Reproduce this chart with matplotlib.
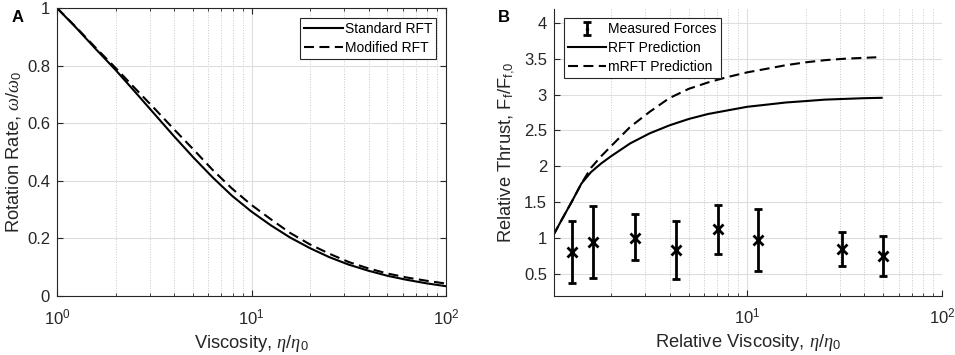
import numpy as np
import matplotlib
matplotlib.use('Agg')
import matplotlib.pyplot as plt
from matplotlib.ticker import FuncFormatter, LogLocator, NullFormatter

plt.rcParams['font.family'] = ['Liberation Sans', 'DejaVu Sans']
plt.rcParams['mathtext.fontset'] = 'custom'
plt.rcParams['mathtext.rm'] = 'Liberation Sans'
plt.rcParams['mathtext.it'] = 'Liberation Serif:italic'
plt.rcParams['mathtext.sf'] = 'Liberation Sans'

# panel A: rotation rate vs viscosity
visc_a = [1, 1.26, 1.58, 2, 2.51, 3.16, 3.98, 5.01, 6.31, 7.94, 10, 12.6, 15.8, 20, 25.1, 31.6,
          39.8, 50.1, 63.1, 79.4, 100]
rate_std = [1.0, 0.93, 0.858, 0.785, 0.71, 0.633, 0.556, 0.482, 0.412, 0.348, 0.293, 0.245, 0.203,
            0.166, 0.135, 0.109, 0.088, 0.07, 0.056, 0.044, 0.034]
rate_mod = [1.0, 0.932, 0.862, 0.792, 0.722, 0.652, 0.58, 0.51, 0.438, 0.373, 0.316, 0.266, 0.219,
            0.179, 0.147, 0.118, 0.096, 0.078, 0.064, 0.053, 0.043]

# panel B: relative thrust
visc_rft = [1.012, 1.12, 1.26, 1.41, 1.58, 1.78, 2, 2.51, 3.16, 3.98, 5.01, 6.31, 7.94, 10,
            12.6, 15.8, 20, 25.1, 31.6, 39.8, 49]
thrust_rft = [1.04, 1.26, 1.51, 1.76, 1.92, 2.04, 2.14, 2.32, 2.46, 2.57, 2.66, 2.73, 2.78, 2.83,
              2.86, 2.89, 2.91, 2.93, 2.94, 2.95, 2.955]
visc_mrft = [1.012, 1.12, 1.26, 1.41, 1.58, 1.78, 2, 2.51, 3.16, 3.98, 5.01, 6.31, 7.94, 10,
             12.6, 15.8, 20, 25.1, 31.6, 46]
thrust_mrft = [1.04, 1.26, 1.51, 1.76, 1.98, 2.14, 2.28, 2.55, 2.76, 2.95, 3.08, 3.17, 3.245, 3.31,
               3.36, 3.41, 3.45, 3.48, 3.50, 3.52]

visc_meas = [1.26, 1.61, 2.65, 4.31, 7.05, 11.4, 30.5, 49.7]
force_meas = [0.806, 0.945, 1.0, 0.829, 1.13, 0.978, 0.85, 0.755]
force_lo = [0.379, 0.444, 0.699, 0.43, 0.783, 0.546, 0.606, 0.472]
force_hi = [1.233, 1.442, 1.335, 1.238, 1.461, 1.40, 1.084, 1.029]

txt = '#262626'
tfs = 12      # tick labels
fs = 13.2     # axis labels
lfs = 10      # legends
dash = (0, (4.8, 2.6))

fig = plt.figure(figsize=(9.55, 3.55), dpi=100)
axA = fig.add_axes([57/955, 1-296/355, 389/955, 288/355])
axB = fig.add_axes([554/955, 1-295.5/355, 388/955, 287/355])


def style(ax):
    ax.set_xscale('log')
    ax.grid(True, which='major', color='#dedede', lw=0.8, ls='-')
    ax.grid(True, which='minor', axis='x', color='#c8c8c8', lw=0.7, ls=':')
    ax.set_axisbelow(True)
    ax.xaxis.set_major_locator(LogLocator(base=10))
    ax.xaxis.set_minor_locator(LogLocator(base=10, subs=np.arange(2, 10)))
    ax.xaxis.set_minor_formatter(NullFormatter())
    ax.yaxis.set_major_formatter(FuncFormatter(lambda v, p: '%g' % v))
    ax.tick_params(which='both', direction='in', colors=txt, labelsize=tfs, pad=5)
    ax.tick_params(axis='x', which='both', pad=8)
    ax.tick_params(which='major', length=4)
    ax.tick_params(which='minor', length=2.5)
    for s in ax.spines.values():
        s.set_color(txt)
        s.set_linewidth(0.8)


def legend_box(ax, handles, labels, loc):
    leg = ax.legend(handles, labels, loc=loc, fontsize=lfs, frameon=True, fancybox=False,
                    edgecolor=txt, framealpha=1, handlelength=2.75, handletextpad=0.15,
                    borderaxespad=0.7, labelspacing=0.35, borderpad=0.3)
    leg.get_frame().set_linewidth(0.8)
    return leg


# ---- A ----
style(axA)
a1, = axA.plot(visc_a, rate_std, color='black', lw=1.5)
a2, = axA.plot(visc_a, rate_mod, color='black', lw=1.5, ls=dash)
axA.set_xlim(1, 100)
axA.set_ylim(0, 1)
axA.set_yticks([0, 0.2, 0.4, 0.6, 0.8, 1])
axA.tick_params(which='both', top=True, right=True)
axA.set_xlabel(r'Viscosity, $\eta/\eta_0$', fontsize=fs, color=txt, labelpad=4)
axA.set_ylabel(r'Rotation Rate, $\omega/\omega_0$', fontsize=fs, color=txt, labelpad=2)
legend_box(axA, [a1, a2], ['Standard RFT', 'Modified RFT'], 'upper right')
fig.text(12/955, 1-18/355, 'A', fontsize=12, fontweight='bold', va='center', ha='left')

# ---- B ----
style(axB)
axB.spines['top'].set_visible(False)
axB.spines['right'].set_visible(False)
err = [np.array(force_meas) - np.array(force_lo), np.array(force_hi) - np.array(force_meas)]
axB.errorbar(visc_meas, force_meas, yerr=err, fmt='x', color='black', ms=7, mew=2,
             elinewidth=2, capsize=3, capthick=2)
# legend proxy (MATLAB style icon: bar with caps and a small dot), kept outside the view
eb = axB.errorbar([0.001], [1.0], yerr=[0.3], fmt='.', color='black', ms=3,
                  elinewidth=2, capsize=3, capthick=2)
l1, = axB.plot(visc_rft, thrust_rft, color='black', lw=1.5)
l2, = axB.plot(visc_mrft, thrust_mrft, color='black', lw=1.5, ls=dash)
axB.set_xlim(1.02, 100)
axB.set_ylim(0.2, 4.2)
axB.set_yticks([0.5, 1, 1.5, 2, 2.5, 3, 3.5, 4])
axB.set_xlabel(r'Relative Viscosity, $\eta/\eta_0$', fontsize=fs, color=txt, labelpad=4)
axB.set_ylabel(r'Relative Thrust, F$_\mathrm{f}$/F$_\mathrm{f{,}0}$', fontsize=fs, color=txt, labelpad=5)
legend_box(axB, [eb, l1, l2], ['Measured Forces', 'RFT Prediction', 'mRFT Prediction'], 'upper left')
fig.text(498/955, 1-18/355, 'B', fontsize=12, fontweight='bold', va='center', ha='left')

fig.savefig('out.png', dpi=100)
